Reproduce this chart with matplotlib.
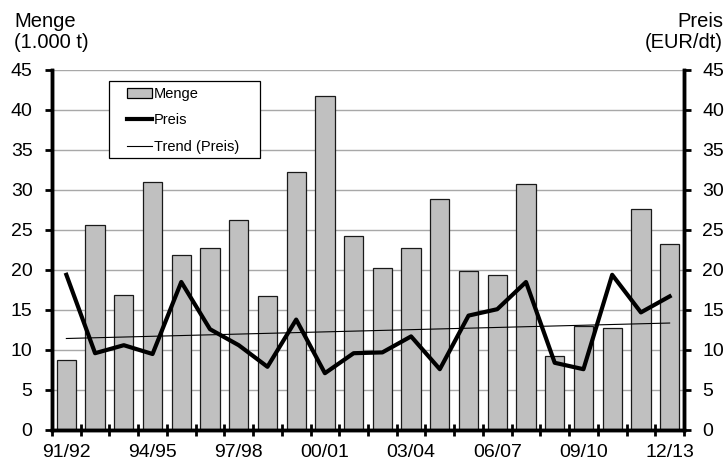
import numpy as np
import matplotlib
matplotlib.use('Agg')
import matplotlib.pyplot as plt
from matplotlib.patches import Patch, Rectangle
from matplotlib.lines import Line2D

plt.rcParams['font.family'] = ['Liberation Sans', 'DejaVu Sans']

# seasons 91/92 .. 12/13
seasons = ['91/92', '92/93', '93/94', '94/95', '95/96', '96/97', '97/98', '98/99',
           '99/00', '00/01', '01/02', '02/03', '03/04', '04/05', '05/06', '06/07',
           '07/08', '08/09', '09/10', '10/11', '11/12', '12/13']
menge = [8.7, 25.6, 16.9, 31.0, 21.9, 22.8, 26.2, 16.8, 32.3, 41.7, 24.2,
         20.2, 22.8, 28.9, 19.9, 19.4, 30.7, 9.2, 13.0, 12.8, 27.6, 23.3]
preis = [19.4, 9.6, 10.6, 9.5, 18.5, 12.6, 10.6, 7.9, 13.8, 7.1, 9.6,
         9.7, 11.7, 7.6, 14.3, 15.1, 18.5, 8.4, 7.6, 19.4, 14.7, 16.7]
label_every = 3

x = np.arange(len(seasons))
# linear trend of the price, as in the spreadsheet
k, d = np.polyfit(x, preis, 1)
trend = k * x + d

W, H = 725, 463
fig = plt.figure(figsize=(W / 100, H / 100), dpi=100)
ax = fig.add_axes([52 / W, 1 - 430 / H, 632 / W, 360 / H])
ax2 = ax.twinx()

ax.set_ylim(0, 45)
ax2.set_ylim(0, 45)
ax.set_xlim(-0.5, len(seasons) - 0.5)
ax.set_yticks(range(0, 50, 5))
ax2.set_yticks(range(0, 50, 5))

ax.yaxis.grid(True, color='#a8a8a8', lw=1.0)
ax.set_axisbelow(True)

ax.bar(x, menge, width=0.67, color='#c0c0c0', edgecolor='#1a1a1a', lw=0.9, zorder=2)
ax2.plot(x, preis, color='black', lw=3.0, zorder=3)
ax2.plot(x, trend, color='black', lw=0.8, zorder=3)

# ticks between the categories, labels on every third season
ax.set_xticks(np.arange(len(seasons) + 1) - 0.5)
ax.set_xticklabels([])
ax.set_xticks(x[::label_every], minor=True)
ax.set_xticklabels(seasons[::label_every], minor=True)
ax.tick_params(axis='x', which='major', direction='inout', length=8, width=2)
ax.tick_params(axis='x', which='minor', length=0, labelsize=14, pad=10)
ax.tick_params(axis='y', direction='out', length=5, width=2, labelsize=14, pad=9)
ax2.tick_params(axis='y', direction='out', length=5, width=2, labelsize=14, pad=8)

for a in (ax, ax2):
    a.spines['top'].set_visible(False)
    a.spines['left'].set_linewidth(2.5)
    a.spines['right'].set_linewidth(2.5)
    a.spines['bottom'].set_linewidth(2.5)

fig.text(14 / W, 1 - 12 / H, 'Menge\n(1.000 t)', ha='left', va='top', fontsize=14.5, linespacing=1.1)
fig.text(723 / W, 1 - 12 / H, 'Preis\n(EUR/dt)', ha='right', va='top', fontsize=14.5, linespacing=1.1)

# legend box drawn by hand (wide side padding like the original)
fig.patches.append(Rectangle((109 / W, 1 - 158 / H), 151 / W, 77 / H,
                             transform=fig.transFigure, facecolor='white',
                             edgecolor='black', lw=0.9, zorder=4))
handles = [Patch(facecolor='#c0c0c0', edgecolor='black', lw=0.9),
           Line2D([], [], color='black', lw=3.0),
           Line2D([], [], color='black', lw=0.8)]
leg = fig.legend(handles, ['Menge', 'Preis', 'Trend (Preis)'],
                 loc='upper left', bbox_to_anchor=(127 / W, 1 - 87 / H),
                 bbox_transform=fig.transFigure, frameon=False,
                 fontsize=10.5, handlelength=1.7, handletextpad=0.15,
                 borderpad=0, labelspacing=0.85, borderaxespad=0)
leg.set_zorder(6)

fig.savefig('out.png', dpi=100)
